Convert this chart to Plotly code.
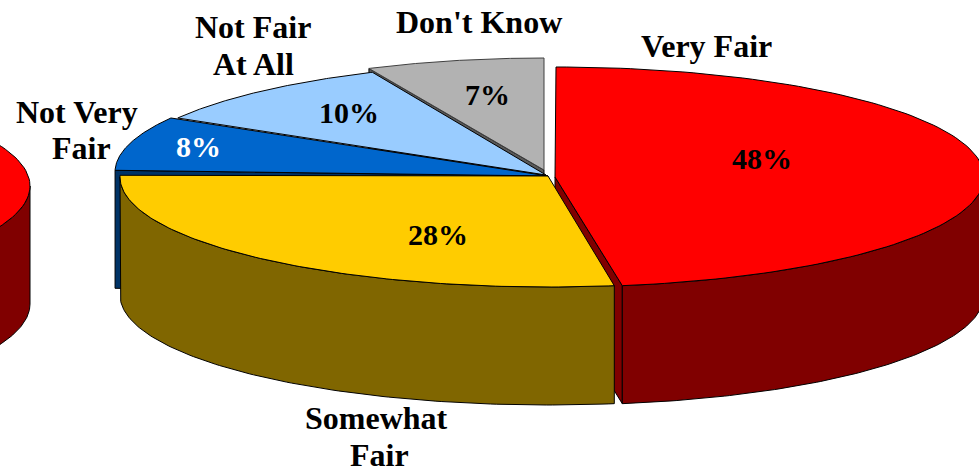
import numpy as np
import plotly.graph_objects as go

categories = ["Very Fair", "Somewhat Fair", "Not Very Fair", "Not Fair At All", "Don't Know"]
values = [48, 28, 8, 10, 7]
label_lines = [["Very Fair"], ["Somewhat", "Fair"], ["Not Very", "Fair"], ["Not Fair", "At All"], ["Don't Know"]]
top_colors = ["#FF0000", "#FFCC00", "#0066CC", "#99CCFF", "#B2B2B2"]
side_colors = ["#800000", "#806600", "#003366", "#4D6680", "#595959"]

W, H = 979, 470
DEPTH = 118
total = sum(values)
edges = np.cumsum([0] + values) / total * 2 * np.pi

# Per-slice pull-out geometry of the projected pie (pixel axes)
geom = [
    dict(cx=556, cy=177, rx=428, ry=110, ax=555, ay=177),
    dict(cx=548, cy=177, rx=428, ry=110, ax=548, ay=176),
    dict(cx=549, cy=172, rx=434, ry=110, ax=548, ay=176),
    dict(cx=555, cy=172, rx=433, ry=110, ax=546, ay=175),
    dict(cx=544, cy=170, rx=415, ry=112, ax=544, ay=170),
]


def arc(i, dx=0, dy=0, front_only=False):
    g = geom[i]
    a0, a1 = edges[i], edges[i + 1]
    if front_only:
        a0, a1 = max(a0, np.pi / 2), min(a1, 3 * np.pi / 2)
    t = np.linspace(a0, a1, 120)
    return g["cx"] + g["rx"] * np.sin(t) + dx, g["cy"] - g["ry"] * np.cos(t) + dy


fig = go.Figure()


def poly(x, y, fill, name, line="#000000", width=1):
    fig.add_trace(go.Scatter(
        x=list(x) + [x[0]], y=list(y) + [y[0]], mode="lines", fill="toself",
        fillcolor=fill, line=dict(color=line, width=width), name=name,
        hoverinfo="skip", showlegend=False))


def top(i, dx=0, dy=0):
    g = geom[i]
    x, y = arc(i, dx, dy)
    poly([g["ax"] + dx, *x], [g["ay"] + dy, *y], top_colors[i], categories[i],
         line="#404040" if i == 4 else "#000000")


def rim(i, dx=0, dy=0):
    x, y = arc(i, dx, dy, front_only=True)
    poly([*x, *x[::-1]], [*y, *(y[::-1] + DEPTH)], side_colors[i], categories[i])


def cut(i, at_end):
    g = geom[i]
    x, y = arc(i)
    k = -1 if at_end else 0
    poly([x[k], g["ax"], g["ax"], x[k]],
         [y[k], g["ay"], g["ay"] + DEPTH, y[k] + DEPTH], side_colors[i], categories[i],
         line="#000000")


# Wrapped-around piece of the red slice at the left edge
rim(0, dx=-954, dy=9)
top(0, dx=-954, dy=9)

# Back slices
cut(4, False)
top(4)
top(3)
cut(2, False)
top(2)

# Very Fair
cut(0, True)
rim(0)
top(0)

# Somewhat Fair
rim(1)
top(1)

# Labels
FONT = "Liberation Serif"
label_pos = [[(706, 46)], [(376, 418), (379, 455)], [(77, 112), (81, 148)], [(253, 27), (253, 64)], [(479, 22)]]
pct_pos = [(762, 158), (438, 234), (198, 146), (349, 112), (487, 94)]
pct_colors = ["#000000", "#000000", "#FFFFFF", "#000000", "#000000"]

for lines, pos in zip(label_lines, label_pos):
    for s, (px, py) in zip(lines, pos):
        fig.add_annotation(x=px, y=py, text=f"<b>{s}</b>", showarrow=False,
                           xanchor="center", yanchor="middle",
                           font=dict(family=FONT, size=32, color="#000000"))
for v, (px, py), c in zip(values, pct_pos, pct_colors):
    fig.add_annotation(x=px, y=py, text=f"<b>{v}%</b>", showarrow=False,
                       xanchor="center", yanchor="middle",
                       font=dict(family=FONT, size=30, color=c))

fig.update_layout(
    width=W, height=H, margin=dict(l=0, r=0, t=0, b=0),
    paper_bgcolor="#FFFFFF", plot_bgcolor="#FFFFFF", showlegend=False,
    xaxis=dict(range=[0, W], visible=False, fixedrange=True),
    yaxis=dict(range=[H, 0], visible=False, fixedrange=True),
)
fig.write_html("out.html", config={"displayModeBar": False},
               post_script="document.documentElement.style.overflow='hidden';document.body.style.margin='0';")
